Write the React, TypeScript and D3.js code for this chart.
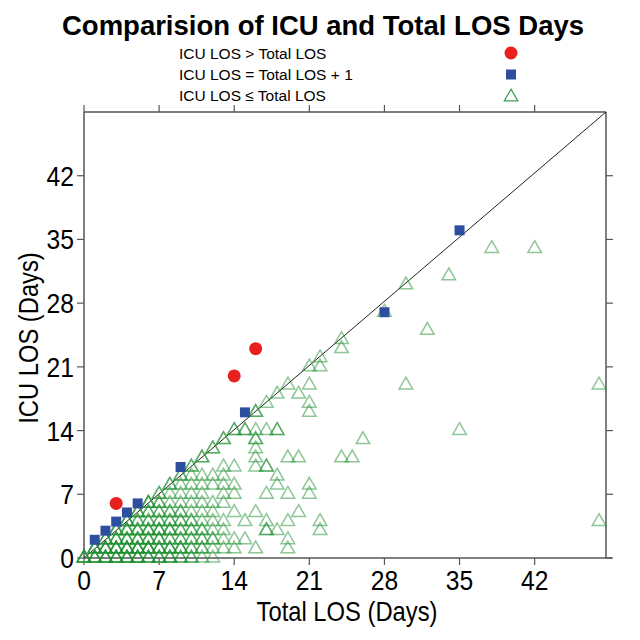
import React from "react";
import * as d3 from "d3";

const title = "Comparision of ICU and Total LOS Days";
const legendLabels = ["ICU LOS > Total LOS", "ICU LOS = Total LOS + 1", "ICU LOS \u2264 Total LOS"];
const xTicks = [0, 7, 14, 21, 28, 35, 42];
const yTicks = [0, 7, 14, 21, 28, 35, 42];

// ICU LOS > Total LOS  [total, icu]
const circles: [number, number][] = [[3, 6], [14, 20], [16, 23]];
// ICU LOS = Total LOS + 1
const squares: [number, number][] = [[1, 2], [2, 3], [3, 4], [4, 5], [5, 6], [9, 10], [15, 16], [28, 27], [35, 36]];

// dense lower-left block: [total LOS, list of ICU LOS values (repeats = several patients)]
const denseCols: [number, number[]][] = [
  [0, [0, 0, 0, 0]],
  [1, [0, 0, 0, 0, 1, 1, 1, 1]],
  [2, [0, 0, 0, 0, 1, 1, 1, 1, 2, 2, 2]],
  [3, [0, 0, 0, 0, 1, 1, 1, 1, 2, 2, 2, 3, 3, 3]],
  [4, [0, 0, 0, 0, 1, 1, 1, 1, 2, 2, 2, 3, 3, 3, 4, 4, 4]],
  [5, [0, 0, 0, 0, 1, 1, 1, 1, 2, 2, 2, 3, 3, 3, 4, 4, 5, 5, 5]],
  [6, [0, 0, 0, 1, 1, 1, 1, 2, 2, 2, 3, 3, 3, 4, 4, 5, 5, 6, 6, 6]],
  [7, [0, 0, 0, 1, 1, 1, 2, 2, 2, 3, 3, 3, 4, 4, 5, 5, 6, 6, 7, 7]],
  [8, [0, 0, 0, 1, 1, 1, 2, 2, 3, 3, 3, 4, 4, 5, 5, 6, 7, 8, 8]],
  [9, [0, 0, 1, 1, 1, 2, 2, 3, 3, 4, 4, 5, 5, 6, 7, 8, 9, 9]],
  [10, [0, 0, 1, 1, 2, 2, 3, 3, 4, 4, 5, 6, 7, 8, 9, 10, 10]],
  [11, [0, 1, 1, 2, 2, 3, 3, 4, 5, 6, 7, 8, 9, 11, 11]],
  [12, [0, 1, 2, 2, 3, 4, 5, 6, 8, 9, 12, 12]],
  [13, [1, 2, 3, 4, 6, 7, 8, 9, 10, 13, 13]],
  [14, [1, 2, 5, 7, 8, 10, 14, 14]],
  [15, [2, 4, 14, 14]],
  [16, [1, 5, 10, 11, 12, 13, 13, 14, 16, 16]],
  [17, [3, 3, 4, 7, 10, 10, 14, 17]],
  [18, [3, 8, 9, 14, 14, 18]],
  [19, [1, 2, 4, 7, 11, 19]],
  [20, [5, 11, 18]],
  [21, [7, 8, 16, 17, 19, 21]],
  [22, [3, 4, 21, 22]],
];
// sparse outliers [total, icu]
const sparse: [number, number][] = [
  [24, 23], [24, 24], [24, 11], [25, 11], [26, 13], [28, 27], [30, 30], [32, 25],
  [34, 31], [38, 34], [42, 34], [30, 19], [48, 19], [35, 14], [48, 4],
];

const W = 640, H = 640;
const left = 84, right = 606, top = 112, bottom = 558;

export default function App() {
  const x = d3.scaleLinear().domain([0, 48.65]).range([left, right]);
  const y = d3.scaleLinear().domain([0, 49]).range([bottom, top]);
  const tri = d3.symbol().type(d3.symbolTriangle).size(80)();
  const sq = d3.symbol().type(d3.symbolSquare).size(100)();

  const triPts: [number, number][] = [];
  denseCols.forEach(([tx, ys]) => ys.forEach((v) => triPts.push([tx, v])));
  sparse.forEach((p) => triPts.push(p));

  const axisColor = "#555";
  const font = "'Liberation Sans', Arial, sans-serif";
  const triStroke = "#1b8f2e";
  const sx = 0.88;

  return (
    <svg width={W} height={H} style={{ position: "absolute", left: 0, top: 0, background: "#fff" }} fontFamily={font}>
      <rect x={0} y={0} width={W} height={H} fill="#fff" />
      <text x={323} y={35} textAnchor="middle" fontSize={27.5} fontWeight="bold">{title}</text>
      {legendLabels.map((l, i) => (
        <text key={l} x={179} y={59 + i * 21} fontSize={15.5}>{l}</text>
      ))}
      <circle cx={511} cy={53} r={6.5} fill="#e8201e" />
      <path d={sq} transform="translate(511,74.5)" fill="#2e4fa0" />
      <path d={tri} transform="translate(511,97)" fill="none" stroke="#3a9e52" strokeWidth={1.2} />

      {/* frame */}
      <line x1={left} x2={612} y1={bottom} y2={bottom} stroke={axisColor} strokeWidth={1.5} />
      <line x1={left} x2={right} y1={top} y2={top} stroke={axisColor} strokeWidth={1.5} />
      <line x1={left} x2={left} y1={top} y2={bottom} stroke={axisColor} strokeWidth={1.5} />
      <line x1={right} x2={right} y1={top} y2={bottom} stroke={axisColor} strokeWidth={1.5} />
      {xTicks.map((t) => (
        <g key={"x" + t}>
          <line x1={x(t)} x2={x(t)} y1={bottom} y2={bottom + 7} stroke={axisColor} strokeWidth={1.2} />
          <line x1={x(t)} x2={x(t)} y1={top} y2={top - 7} stroke={axisColor} strokeWidth={1.2} />
          <g transform={`translate(${x(t)},590) scale(${sx},1)`}>
            <text x={0} y={0} textAnchor="middle" fontSize={28}>{t}</text>
          </g>
        </g>
      ))}
      {yTicks.map((t) => (
        <g key={"y" + t}>
          <line x1={left} x2={left - 7} y1={y(t)} y2={y(t)} stroke={axisColor} strokeWidth={1.2} />
          <line x1={right} x2={right + 7} y1={y(t)} y2={y(t)} stroke={axisColor} strokeWidth={1.2} />
          <g transform={`translate(74,${y(t) + 10}) scale(${sx},1)`}>
            <text x={0} y={0} textAnchor="end" fontSize={28}>{t}</text>
          </g>
        </g>
      ))}
      <g transform={`translate(347,621) scale(${sx},1)`}>
        <text x={0} y={0} textAnchor="middle" fontSize={27}>Total LOS (Days)</text>
      </g>
      <g transform={`translate(38,338) rotate(-90) scale(${sx},1)`}>
        <text x={0} y={0} textAnchor="middle" fontSize={27}>ICU LOS (Days)</text>
      </g>

      {/* diagonal */}
      <line x1={left} y1={bottom} x2={right} y2={top} stroke="#222" strokeWidth={1} />

      {triPts.map(([a, b], i) => (
        <path key={"t" + i} d={tri} transform={`translate(${x(a)},${y(b)})`} fill="none"
          stroke={triStroke} strokeOpacity={0.5} strokeWidth={1.5} />
      ))}
      {squares.map(([a, b], i) => (
        <path key={"s" + i} d={sq} transform={`translate(${x(a)},${y(b)})`} fill="#2e4fa0" />
      ))}
      {circles.map(([a, b], i) => (
        <circle key={"c" + i} cx={x(a)} cy={y(b)} r={6.5} fill="#e8201e" />
      ))}
    </svg>
  );
}
